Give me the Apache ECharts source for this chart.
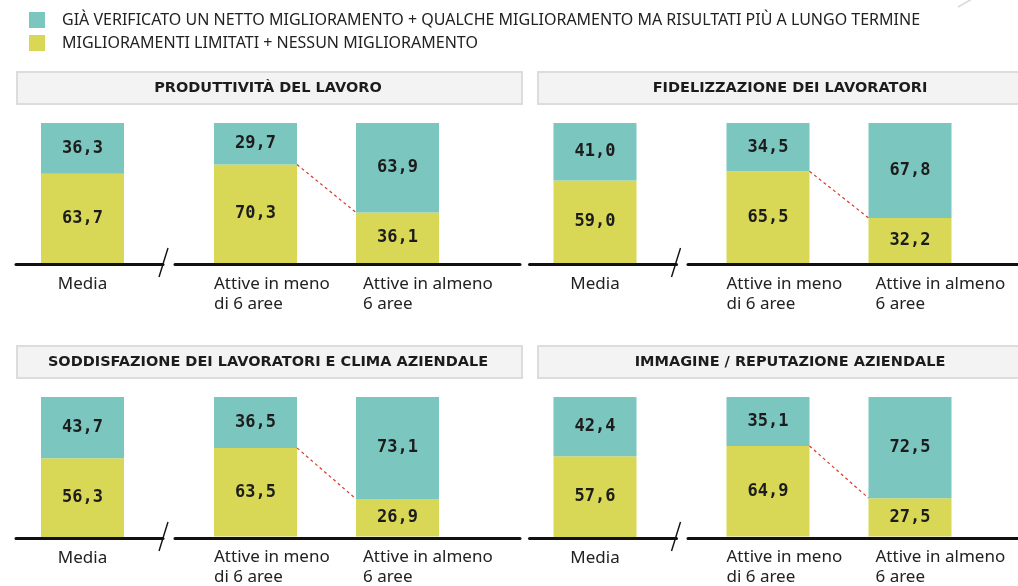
<!DOCTYPE html>
<html>
<head>
<meta charset="utf-8">
<script src="https://cdn.jsdelivr.net/npm/echarts@6/dist/echarts.min.js"></script>
<style>
  html, body { margin: 0; padding: 0; background: #ffffff; }
  #chart { width: 1018px; height: 586px; }
</style>
</head>
<body>
<div id="chart"></div>
<script>
// Series (legend) names
const seriesNames = [
  'GIÀ VERIFICATO UN NETTO MIGLIORAMENTO + QUALCHE MIGLIORAMENTO MA RISULTATI PIÙ A LUNGO TERMINE',
  'MIGLIORAMENTI LIMITATI + NESSUN MIGLIORAMENTO'
];

// Bar categories: average, then companies active in fewer / at least 6 areas
const categories = ['Media', 'Attive in meno\ndi 6 aree', 'Attive in almeno\n6 aree'];

// Panel titles
const panelTitles = [
  'PRODUTTIVITÀ DEL LAVORO',
  'FIDELIZZAZIONE DEI LAVORATORI',
  'SODDISFAZIONE DEI LAVORATORI E CLIMA AZIENDALE',
  'IMMAGINE / REPUTAZIONE AZIENDALE'
];

// Values (%), one pair of arrays per panel
const produttivitaMiglioramento = [36.3, 29.7, 63.9];
const produttivitaLimitati      = [63.7, 70.3, 36.1];
const fidelizzazioneMiglioramento = [41.0, 34.5, 67.8];
const fidelizzazioneLimitati      = [59.0, 65.5, 32.2];
const soddisfazioneMiglioramento = [43.7, 36.5, 73.1];
const soddisfazioneLimitati      = [56.3, 63.5, 26.9];
const immagineMiglioramento = [42.4, 35.1, 72.5];
const immagineLimitati      = [57.6, 64.9, 27.5];

const panels = [
  { title: panelTitles[0], improved: produttivitaMiglioramento, limited: produttivitaLimitati },
  { title: panelTitles[1], improved: fidelizzazioneMiglioramento, limited: fidelizzazioneLimitati },
  { title: panelTitles[2], improved: soddisfazioneMiglioramento, limited: soddisfazioneLimitati },
  { title: panelTitles[3], improved: immagineMiglioramento, limited: immagineLimitati }
];

const TEAL = '#7bc6bf';
const YELLOW = '#d8d856';
const INK = '#1c1c1c';
const BAR_W = 83;
const SANS = '"Noto Sans", "Open Sans", sans-serif';
const HEAD = '"DejaVu Sans", "Noto Sans", sans-serif';
const MONO = '"DejaVu Sans Mono", monospace';

const fmt = v => v.toFixed(1).replace('.', ',');

// panel offsets (column, row)
const offsets = [[0, 0], [512.5, 0], [0, 274], [512.5, 274]];

const grid = [], xAxis = [], yAxis = [], series = [], graphic = [];

const valueLabel = {
  show: true,
  position: 'inside',
  formatter: p => fmt(p.value),
  fontFamily: MONO,
  fontWeight: 'bold',
  fontSize: 17,
  color: INK
};

const catText = { fontFamily: SANS, fontSize: 17, lineHeight: 20, color: '#222' };
const catLabelRich = {
  c: Object.assign({ align: 'center' }, catText),
  l: Object.assign({ align: 'left' }, catText),
  r: Object.assign({ align: 'left', padding: [0, 0, 0, 7] }, catText)
};

panels.forEach((panel, p) => {
  const [ox, oy] = offsets[p];
  const right = p % 2 === 1;
  const g0 = grid.length;

  // bars: average
  grid.push({ left: 41 + ox, top: 123 + oy, width: BAR_W, height: 140 });
  // bars: the two groups
  grid.push({ left: 184.5 + ox, top: 123 + oy, width: 284, height: 140 });
  // baseline segments, broken by the slash
  grid.push({ left: 16 + ox + (right ? 1 : 0), top: 124 + oy, width: 147, height: 140 });
  grid.push({ left: 175 + ox + (right ? 0.5 : 0), top: 124 + oy, width: right ? 330 : 345, height: 140 });

  const labelAxis = (gi, data, styles) => ({
    type: 'category',
    gridIndex: gi,
    data: data,
    axisLine: { show: false },
    axisTick: { show: false },
    axisLabel: {
      interval: 0,
      margin: 11,
      align: 'center',
      width: BAR_W,
      formatter: (v, i) => v.split('\n').map(s => '{' + styles[i] + '|' + s + '}').join('\n'),
      rich: catLabelRich
    }
  });
  xAxis.push(labelAxis(g0, [categories[0]], ['c']));
  xAxis.push(labelAxis(g0 + 1, categories.slice(1), ['l', 'r']));
  [2, 3].forEach(k => {
    xAxis.push({
      type: 'category', gridIndex: g0 + k, data: [''],
      axisLine: { show: true, lineStyle: { color: '#111', width: 3 } },
      axisTick: { show: false }, axisLabel: { show: false }
    });
  });
  for (let k = 0; k < 4; k++) {
    yAxis.push({ type: 'value', gridIndex: g0 + k, min: 0, max: 100, show: false });
  }

  // stacked bars
  [[g0, 0, 1], [g0 + 1, 1, 3]].forEach(([gi, s, e]) => {
    series.push({
      name: seriesNames[1], type: 'bar', stack: 's' + gi, barWidth: BAR_W,
      xAxisIndex: gi, yAxisIndex: gi,
      itemStyle: { color: YELLOW }, label: valueLabel,
      data: panel.limited.slice(s, e)
    });
    series.push({
      name: seriesNames[0], type: 'bar', stack: 's' + gi, barWidth: BAR_W,
      xAxisIndex: gi, yAxisIndex: gi,
      itemStyle: { color: TEAL }, label: valueLabel,
      data: panel.improved.slice(s, e)
    });
  });

  // dashed connector between the tops of the lower segments
  series.push({
    name: 'connector', type: 'custom', xAxisIndex: g0 + 1, yAxisIndex: g0 + 1,
    silent: true, z: 5,
    data: [[0, panel.limited[1], 1, panel.limited[2]]],
    renderItem: (params, api) => {
      const a = api.coord([api.value(0), api.value(1)]);
      const b = api.coord([api.value(2), api.value(3)]);
      return {
        type: 'line',
        shape: { x1: a[0] + BAR_W / 2, y1: a[1], x2: b[0] - BAR_W / 2, y2: b[1] },
        style: { stroke: '#d8392c', lineWidth: 1.2, lineDash: [3, 3] }
      };
    }
  });

  // panel heading box
  const bx = right ? 538 : 17;
  const bw = right ? 504 : 505;
  graphic.push({
    type: 'rect', z: 1,
    shape: { x: bx, y: 72 + oy, width: bw, height: 32 },
    style: { fill: '#f3f3f3', stroke: '#dcdcdc', lineWidth: 2 }
  });
  graphic.push({
    type: 'text', z: 2,
    x: right ? 790 : 268, y: 88 + oy,
    style: {
      text: panel.title, fill: INK,
      font: 'bold 14.5px ' + HEAD,
      textAlign: 'center', textVerticalAlign: 'middle'
    }
  });

  // axis break mark
  graphic.push({
    type: 'line', z: 3,
    shape: { x1: 159 + ox, y1: 277 + oy, x2: 168 + ox, y2: 248 + oy },
    style: { stroke: '#111', lineWidth: 1.4 }
  });
});

// faint stroke in the top-right corner
graphic.push({
  type: 'line',
  shape: { x1: 958, y1: 7, x2: 972, y2: -1 },
  style: { stroke: '#d8d8d8', lineWidth: 1.5 }
});

const chart = echarts.init(document.getElementById('chart'), null, { renderer: 'canvas' });
chart.setOption({
  animation: false,
  backgroundColor: '#ffffff',
  legend: {
    data: [seriesNames[0], seriesNames[1]],
    orient: 'vertical',
    left: 29, top: 12, padding: 0,
    itemWidth: 16, itemHeight: 16, itemGap: 7,
    icon: 'rect',
    selectedMode: false,
    formatter: n => '{t|' + n + '}',
    textStyle: {
      rich: { t: { fontFamily: SANS, fontSize: 16, color: '#222', padding: [0, 0, 0, 12] } }
    }
  },
  grid, xAxis, yAxis, series, graphic
});
</script>
</body>
</html>
